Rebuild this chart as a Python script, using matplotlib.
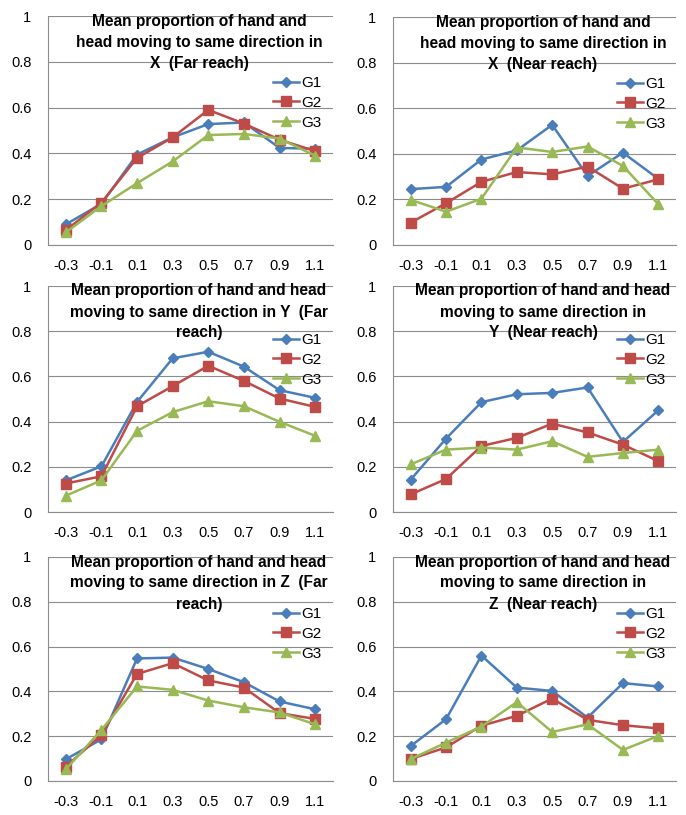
import numpy as np
import matplotlib.pyplot as plt
from matplotlib.transforms import offset_copy

X_LABELS = ["-0.3", "-0.1", "0.1", "0.3", "0.5", "0.7", "0.9", "1.1"]
GROUPS = ["G1", "G2", "G3"]

TITLES = [
    "Mean proportion of hand and\nhead moving to same direction in\nX  (Far reach)",
    "Mean proportion of hand and\nhead moving to same direction in\nX  (Near reach)",
    "Mean proportion of hand and head\nmoving to same direction in Y  (Far\nreach)",
    "Mean proportion of hand and head\nmoving to same direction in\nY  (Near reach)",
    "Mean proportion of hand and head\nmoving to same direction in Z  (Far\nreach)",
    "Mean proportion of hand and head\nmoving to same direction in\nZ  (Near reach)",
]

# X far
X_FAR_G1 = [0.09, 0.18, 0.395, 0.47, 0.528, 0.535, 0.424, 0.42]
X_FAR_G2 = [0.065, 0.185, 0.38, 0.47, 0.59, 0.53, 0.46, 0.41]
X_FAR_G3 = [0.055, 0.17, 0.27, 0.365, 0.48, 0.485, 0.465, 0.39]
# X near
X_NEAR_G1 = [0.245, 0.255, 0.375, 0.415, 0.527, 0.303, 0.405, 0.29]
X_NEAR_G2 = [0.098, 0.183, 0.277, 0.32, 0.31, 0.344, 0.247, 0.288]
X_NEAR_G3 = [0.198, 0.146, 0.203, 0.428, 0.408, 0.432, 0.347, 0.179]
# Y far
Y_FAR_G1 = [0.14, 0.202, 0.487, 0.68, 0.709, 0.643, 0.539, 0.505]
Y_FAR_G2 = [0.126, 0.158, 0.468, 0.557, 0.647, 0.58, 0.502, 0.465]
Y_FAR_G3 = [0.072, 0.14, 0.359, 0.442, 0.49, 0.468, 0.399, 0.337]
# Y near
Y_NEAR_G1 = [0.143, 0.325, 0.486, 0.521, 0.527, 0.551, 0.31, 0.45]
Y_NEAR_G2 = [0.078, 0.146, 0.292, 0.328, 0.391, 0.352, 0.298, 0.225]
Y_NEAR_G3 = [0.211, 0.276, 0.285, 0.276, 0.313, 0.244, 0.261, 0.276]
# Z far
Z_FAR_G1 = [0.097, 0.186, 0.547, 0.551, 0.5, 0.441, 0.355, 0.32]
Z_FAR_G2 = [0.064, 0.206, 0.478, 0.526, 0.449, 0.417, 0.303, 0.277]
Z_FAR_G3 = [0.052, 0.228, 0.422, 0.407, 0.359, 0.329, 0.306, 0.253]
# Z near
Z_NEAR_G1 = [0.156, 0.276, 0.56, 0.417, 0.402, 0.283, 0.437, 0.422]
Z_NEAR_G2 = [0.098, 0.15, 0.247, 0.291, 0.368, 0.273, 0.249, 0.235]
Z_NEAR_G3 = [0.098, 0.171, 0.243, 0.352, 0.219, 0.253, 0.139, 0.201]

PANELS = [
    (X_FAR_G1, X_FAR_G2, X_FAR_G3),
    (X_NEAR_G1, X_NEAR_G2, X_NEAR_G3),
    (Y_FAR_G1, Y_FAR_G2, Y_FAR_G3),
    (Y_NEAR_G1, Y_NEAR_G2, Y_NEAR_G3),
    (Z_FAR_G1, Z_FAR_G2, Z_FAR_G3),
    (Z_NEAR_G1, Z_NEAR_G2, Z_NEAR_G3),
]

COLORS = ["#4A7EBB", "#BE4B48", "#98B954"]
MARKERS = ["D", "s", "^"]
MSIZES = [5, 6.5, 7]

W, H = 686, 815
# axes boxes in pixels: left, top, right, bottom
BOXES = [
    (48, 16, 333, 245), (393, 17, 676, 245),
    (48, 286, 333, 512), (393, 286, 676, 512),
    (48, 557, 333, 781), (393, 557, 676, 781),
]
# legend top (pixels below axes top)
LEG_TOP = [60, 60, 47, 47, 50, 50]
# title line centres (pixels below axes top)
TITLE_LINE_Y = [5, 26, 47]

plt.rcParams["font.family"] = ["Liberation Sans", "DejaVu Sans"]

fig = plt.figure(figsize=(W / 100, H / 100), dpi=100)
x = np.arange(len(X_LABELS))

for i, (box, series) in enumerate(zip(BOXES, PANELS)):
    l, t, r, b = box
    ax = fig.add_axes([l / W, 1 - b / H, (r - l) / W, (b - t) / H])
    for k, ys in enumerate(series):
        ax.plot(x, ys, color=COLORS[k], marker=MARKERS[k], ms=MSIZES[k],
                lw=1.8, label=GROUPS[k])
    ax.set_xlim(-0.5, len(X_LABELS) - 0.5)
    ax.set_ylim(0, 1)
    ax.set_yticks([0, 0.2, 0.4, 0.6, 0.8, 1.0])
    ax.set_yticklabels(["0", "0.2", "0.4", "0.6", "0.8", "1"])
    ax.set_xticks(x)
    ax.set_xticklabels(X_LABELS)
    ax.tick_params(axis="both", labelsize=10.5, length=0)
    ax.tick_params(axis="x", pad=10)
    ax.tick_params(axis="y", pad=12)
    ax.yaxis.grid(True, color="#8c8c8c", lw=0.8)
    ax.set_axisbelow(True)
    for s in ["top", "right"]:
        ax.spines[s].set_visible(False)
    for s in ["left", "bottom"]:
        ax.spines[s].set_color("#8c8c8c")
        ax.spines[s].set_linewidth(0.8)

    # title drawn line by line (Excel-style chart title inside plot area)
    for line, dy in zip(TITLES[i].split("\n"), TITLE_LINE_Y):
        tr = offset_copy(ax.transAxes, fig=fig, x=0, y=-dy, units="dots")
        ax.text(0.53, 1.0, line, transform=tr, ha="center", va="center",
                fontsize=11.2, fontweight="bold")

    ly = 1 - LEG_TOP[i] / (b - t)
    ax.legend(loc="upper left", bbox_to_anchor=(0.79, ly), frameon=False,
              fontsize=11, handlelength=1.7, handletextpad=0.15,
              labelspacing=0.38, borderaxespad=0, borderpad=0)

fig.savefig("out.png", dpi=100)
